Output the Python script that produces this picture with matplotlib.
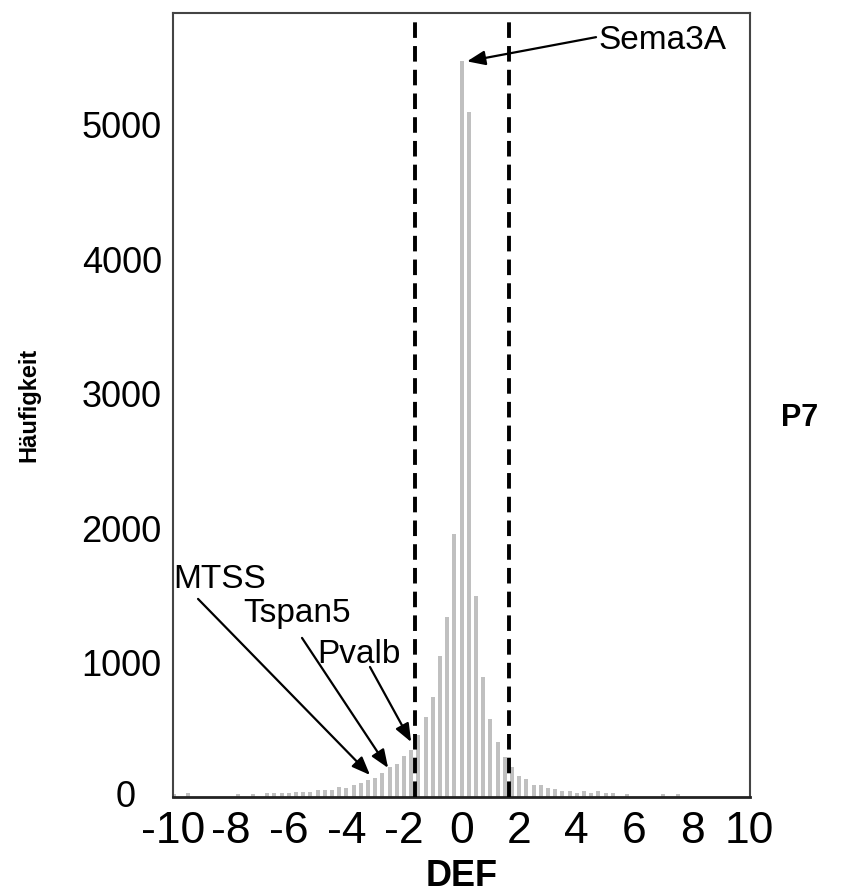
import numpy as np
import matplotlib
matplotlib.use("Agg")
import matplotlib.pyplot as plt

plt.rcParams['font.family'] = ['Liberation Sans', 'DejaVu Sans']
plt.rcParams['axes.unicode_minus'] = False

# DEF histogram (bin centres, bin width 0.25) and counts
def_bins = [-10.0, -9.5, -7.75, -7.25, -6.75, -6.5, -6.25, -6.0, -5.75, -5.5,
            -5.25, -5.0, -4.75, -4.5, -4.25, -4.0, -3.75, -3.5, -3.25, -3.0,
            -2.75, -2.5, -2.25, -2.0, -1.75, -1.5, -1.25, -1.0, -0.75, -0.5,
            -0.25, 0.0, 0.25, 0.5, 0.75, 1.0, 1.25, 1.5, 1.75, 2.0,
            2.25, 2.5, 2.75, 3.0, 3.25, 3.5, 3.75, 4.0, 4.25, 4.5,
            4.75, 5.0, 5.25, 5.75, 7.0, 7.5]
counts = [25, 28, 25, 25, 30, 30, 30, 30, 40, 40,
          40, 55, 55, 55, 75, 65, 90, 105, 125, 140,
          180, 225, 245, 305, 350, 460, 595, 745, 1050, 1340,
          1957, 5470, 5090, 1495, 893, 580, 410, 298, 225, 155,
          132, 89, 89, 66, 60, 45, 45, 32, 45, 32,
          45, 32, 32, 26, 26, 26]

cutoffs = [-1.6, 1.66]

xticks = [-10, -8, -6, -4, -2, 0, 2, 4, 6, 8, 10]
yticks = [0, 1000, 2000, 3000, 4000, 5000]

# gene labels: name, arrow tip (DEF, count), arrow start, text anchor
genes = ['Sema3A', 'MTSS', 'Tspan5', 'Pvalb']
tips = [(0.19, 5470), (-3.18, 164), (-2.55, 216), (-1.75, 409)]
starts = [(4.67, 5650), (-9.15, 1473), (-5.54, 1183), (-3.18, 967)]
text_pos = [(4.74, 5560), (-10.0, 1555), (-7.59, 1300), (-5.02, 997)]

fig = plt.figure(figsize=(8.5, 8.93), dpi=100)
ax = fig.add_axes([0.2035, 0.1075, 0.679, 0.878])

ax.bar(def_bins, counts, width=0.14, color='#c0c0c0', zorder=2)
for c in cutoffs:
    ax.axvline(c, ymax=0.99, color='black', lw=2.8, dashes=(4.0, 2.1), zorder=3)

for name, tip, st, tp in zip(genes, tips, starts, text_pos):
    ax.annotate('', xy=tip, xytext=st,
                arrowprops=dict(arrowstyle='-|>,head_length=0.5,head_width=0.2',
                                color='black', lw=1.6,
                                mutation_scale=22, shrinkA=0, shrinkB=0),
                zorder=4)
    ax.text(tp[0], tp[1], name, fontsize=24, ha='left', va='baseline')

ax.set_xlim(-10.02, 10.02)
ax.set_ylim(0, 5830)
ax.set_xticks(xticks)
ax.set_xticklabels([str(t) for t in xticks])
ax.set_yticks(yticks)
ax.set_yticklabels(['' if t == 0 else str(t) for t in yticks])
ax.tick_params(axis='x', length=0, pad=10, labelsize=32)
ax.tick_params(axis='y', length=0, pad=8, labelsize=26)
ax.text(-0.065, 0, '0', transform=ax.transAxes, fontsize=26,
        ha='right', va='center')

for s in ['left', 'top', 'right']:
    ax.spines[s].set_color('#444444')
    ax.spines[s].set_linewidth(1.5)
ax.spines['bottom'].set_color('#222222')
ax.spines['bottom'].set_linewidth(2)

ax.set_xlabel('DEF', fontsize=26, fontweight='bold', labelpad=5)
ax.set_ylabel('Häufigkeit', fontsize=17, fontweight='bold', labelpad=30)
fig.text(0.941, 0.532, 'P7', fontsize=22, fontweight='bold',
         ha='center', va='center')

fig.savefig('out.png', dpi=100)
